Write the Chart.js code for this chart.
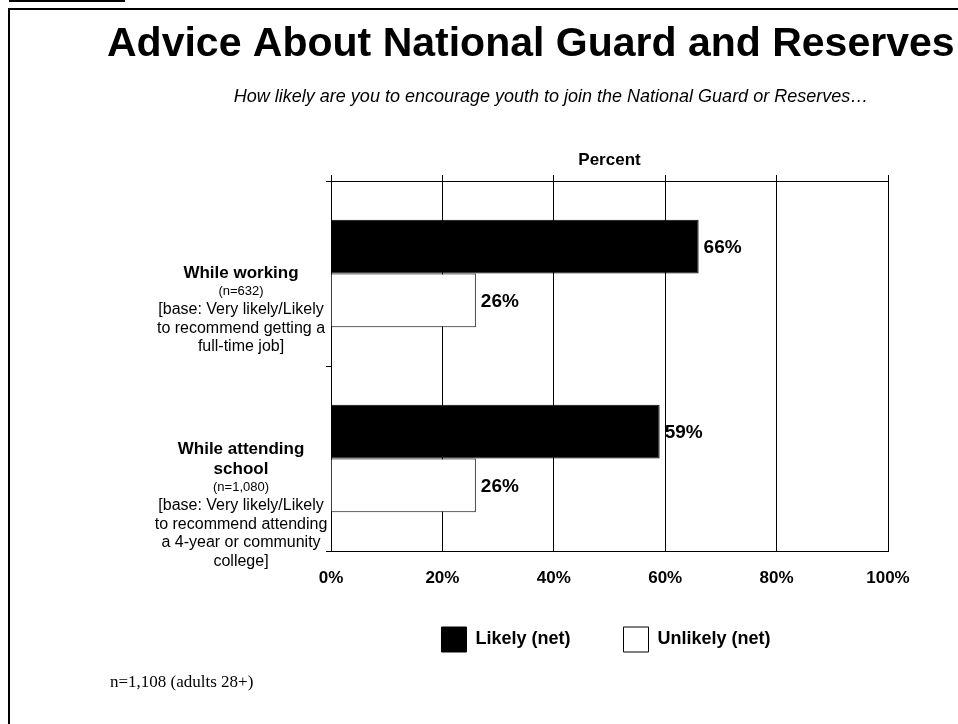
<!DOCTYPE html>
<html>
<head>
<meta charset="utf-8">
<title>Advice About National Guard and Reserves</title>
<script src="https://cdn.jsdelivr.net/npm/chart.js@4.4.0/dist/chart.umd.min.js"></script>
<style>
    html, body { margin: 0; padding: 0; background: #fff; }
    #wrap { position: relative; width: 958px; height: 724px; overflow: hidden; }
</style>
</head>
<body>
<div id="wrap"><canvas id="chart" width="958" height="724"></canvas></div>
<script>
// Data dari slide
const categories = ['While working', 'While attending school'];
const categoryTitles = [['While working'], ['While attending', 'school']];
const sampleSizes = ['(n=632)', '(n=1,080)'];
const baseNotes = [
    ['[base: Very likely/Likely', 'to recommend getting a', 'full-time job]'],
    ['[base: Very likely/Likely', 'to recommend attending', 'a 4-year or community', 'college]']
];
const seriesNames = ['Likely (net)', 'Unlikely (net)'];
const likelyValues = [66, 59];
const unlikelyValues = [26, 26];
const tickStep = 20;
const axisMax = 100;

const titleText = 'Advice About National Guard and Reserves';
const subtitleText = 'How likely are you to encourage youth to join the National Guard or Reserves\u2026';
const axisTitle = 'Percent';
const footnoteText = 'n=1,108 (adults 28+)';

const SANS = '"Liberation Sans", Arial, sans-serif';
const SERIF = '"Liberation Serif", "Times New Roman", serif';

// Bingkai slide, judul, subjudul, catatan kaki
const slideDecor = {
    id: 'slideDecor',
    beforeDraw(chart) {
        const ctx = chart.ctx;
        ctx.save();
        ctx.fillStyle = '#fff';
        ctx.fillRect(0, 0, chart.width, chart.height);
        ctx.fillStyle = '#000';
        ctx.fillRect(9, 0, 116, 2);
        ctx.fillRect(8, 8, chart.width, 2);
        ctx.fillRect(8, 8, 2, chart.height);

        ctx.textBaseline = 'alphabetic';
        ctx.textAlign = 'left';
        ctx.font = 'bold 41px ' + SANS;
        ctx.fillText(titleText, 107, 56);

        ctx.textAlign = 'center';
        ctx.font = 'italic 18px ' + SANS;
        ctx.fillText(subtitleText, 551, 102);

        ctx.textAlign = 'left';
        ctx.font = '17px ' + SERIF;
        ctx.fillText(footnoteText, 110, 687);
        ctx.restore();
    },
    // label sumbu x jangan terpotong oleh area sumbu yang dipendekkan
    afterLayout(chart) {
        const x = chart.scales.x;
        x.bottom = x.top + 42;
        x.height = 42;
    }
};

// Label kategori multi-baris dengan font campuran
const categoryLabels = {
    id: 'categoryLabels',
    afterDraw(chart) {
        const ctx = chart.ctx;
        const yScale = chart.scales.y;
        ctx.save();
        ctx.fillStyle = '#000';
        ctx.textAlign = 'center';
        ctx.textBaseline = 'alphabetic';
        categories.forEach((cat, i) => {
            const lines = [];
            categoryTitles[i].forEach((t, k) => lines.push({ text: t, font: 'bold 17px ' + SANS, step: k === 0 ? 0 : 20 }));
            lines.push({ text: sampleSizes[i], font: '13px ' + SANS, step: 17.5 });
            baseNotes[i].forEach((t, k) => lines.push({ text: t, font: '16px ' + SANS, step: k === 0 ? 19 : 18.5 }));

            // judul dua baris naik sedikit
            let yy = yScale.getPixelForValue(i) + 4 - (categoryTitles[i].length - 1) * 9;
            lines.forEach(line => {
                yy += line.step;
                ctx.font = line.font;
                ctx.fillText(line.text, 241, yy);
            });
        });
        ctx.restore();
    }
};

// Label nilai di ujung batang
const valueLabels = {
    id: 'valueLabels',
    afterDatasetsDraw(chart) {
        const ctx = chart.ctx;
        ctx.save();
        ctx.font = 'bold 19px ' + SANS;
        ctx.fillStyle = '#000';
        ctx.textAlign = 'left';
        ctx.textBaseline = 'middle';
        chart.data.datasets.forEach((ds, di) => {
            chart.getDatasetMeta(di).data.forEach((bar, i) => {
                ctx.fillText(ds.data[i] + '%', bar.x + 5, bar.y + 1);
            });
        });
        ctx.restore();
    }
};

new Chart(document.getElementById('chart'), {
    type: 'bar',
    data: {
        labels: categories,
        datasets: [
            {
                label: seriesNames[0],
                data: likelyValues,
                backgroundColor: '#000',
                borderColor: '#000',
                borderWidth: 1,
                categoryPercentage: 0.58,
                barPercentage: 1
            },
            {
                label: seriesNames[1],
                data: unlikelyValues,
                backgroundColor: '#fff',
                borderColor: '#000',
                borderWidth: 1,
                categoryPercentage: 0.58,
                barPercentage: 1
            }
        ]
    },
    options: {
        indexAxis: 'y',
        responsive: false,
        animation: false,
        layout: { padding: { left: 324, right: 70, top: 152, bottom: 62 } },
        scales: {
            x: {
                type: 'linear',
                position: 'bottom',
                min: 0,
                max: axisMax,
                ticks: {
                    stepSize: tickStep,
                    padding: 17,
                    color: '#000',
                    font: { family: SANS, size: 17, weight: 'bold' },
                    callback: v => v + '%'
                },
                grid: { color: '#000', lineWidth: 1, drawTicks: false },
                border: { color: '#000', width: 1 },
                afterFit: s => { s.height = 23; }
            },
            x2: {
                type: 'linear',
                position: 'top',
                min: 0,
                max: axisMax,
                ticks: { stepSize: tickStep, display: false },
                grid: { color: '#000', drawOnChartArea: false, drawTicks: true, tickLength: 6 },
                border: { color: '#000', width: 1 },
                title: {
                    display: true,
                    text: axisTitle,
                    color: '#000',
                    padding: { top: 0, bottom: 0 },
                    font: { family: SANS, size: 17, weight: 'bold', lineHeight: 1 }
                },
                afterFit: s => { s.height = 29; }
            },
            y: {
                ticks: { display: false },
                grid: { color: '#000', drawOnChartArea: false, tickLength: 5, offset: true },
                border: { color: '#000', width: 1 },
                afterFit: s => { s.width = 7; }
            }
        },
        plugins: {
            legend: {
                position: 'bottom',
                labels: {
                    boxWidth: 25,
                    boxHeight: 25,
                    padding: 53,
                    color: '#000',
                    font: { family: SANS, size: 18, weight: 'bold' }
                }
            },
            tooltip: { enabled: false },
            title: { display: false }
        }
    },
    plugins: [slideDecor, categoryLabels, valueLabels]
});
</script>
</body>
</html>
